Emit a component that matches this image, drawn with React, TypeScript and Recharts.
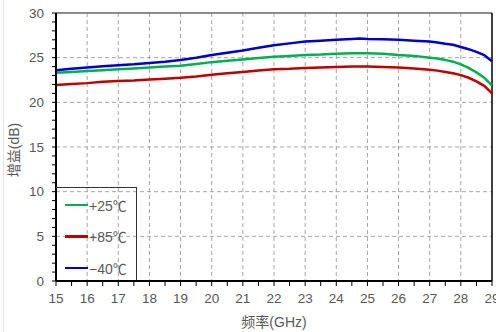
import React from "react";
import {
  LineChart,
  Line,
  XAxis,
  YAxis,
  CartesianGrid,
  ReferenceLine,
} from "recharts";

// frequency points (GHz)
const freqs = [
  15, 15.5, 16, 16.5, 17, 17.5, 18, 18.5, 19, 19.5, 20, 20.5, 21, 21.5, 22,
  22.5, 23, 23.5, 24, 24.5, 24.75, 25, 25.5, 26, 26.5, 27, 27.25, 27.5, 27.75,
  28, 28.25, 28.5, 28.75, 29,
];

// gain (dB) per temperature
const gain25 = [
  23.3, 23.4, 23.5, 23.6, 23.7, 23.8, 23.9, 24.0, 24.1, 24.3, 24.5, 24.65,
  24.8, 24.95, 25.1, 25.2, 25.3, 25.35, 25.45, 25.5, 25.5, 25.5, 25.45, 25.3,
  25.2, 25.0, 24.9, 24.75, 24.55, 24.25, 23.85, 23.35, 22.75, 21.9,
];
const gain85 = [
  21.95, 22.05, 22.15, 22.3, 22.4, 22.45, 22.55, 22.65, 22.75, 22.9, 23.1,
  23.25, 23.4, 23.55, 23.7, 23.75, 23.85, 23.9, 23.95, 24.0, 24.0, 24.0, 23.95,
  23.9, 23.8, 23.65, 23.55, 23.4, 23.25, 23.05, 22.75, 22.35, 21.85, 21.0,
];
const gainM40 = [
  23.6, 23.75, 23.9, 24.05, 24.15, 24.25, 24.4, 24.55, 24.75, 25.0, 25.3,
  25.55, 25.8, 26.1, 26.4, 26.6, 26.8, 26.9, 27.0, 27.1, 27.15, 27.1, 27.05,
  27.0, 26.9, 26.8, 26.7, 26.55, 26.45, 26.2, 25.95, 25.65, 25.3, 24.6,
];

const seriesNames = ["+25℃", "+85℃", "−40℃"];
const seriesKeys = ["g25", "g85", "gm40"];
const seriesColors = ["#00B050", "#C00000", "#0000CC"];

const xTicks = [
  15, 15.5, 16, 16.5, 17, 17.5, 18, 18.5, 19, 19.5, 20, 20.5, 21, 21.5, 22,
  22.5, 23, 23.5, 24, 24.5, 25, 25.5, 26, 26.5, 27, 27.5, 28, 28.5, 29,
];
const xGrid = [16, 17, 18, 19, 20, 21, 22, 23, 24, 25, 26, 27, 28];
const yTicks = Array.from({ length: 31 }, (_, i) => i);
const yGrid = [5, 10, 15, 20, 25];

const xLabel = "频率(GHz)";
const yLabel = "增益(dB)";

const data = freqs.map((f, i) => ({
  f,
  g25: gain25[i],
  g85: gain85[i],
  gm40: gainM40[i],
}));

const FONT = '"Liberation Sans", Arial, "Noto Sans CJK SC", sans-serif';
const TEXT = "#595959";

function XTick({ x, y, payload }: any) {
  if (!Number.isInteger(payload.value)) return null;
  return (
    <text x={x} y={y} dy="0.71em" textAnchor="middle" fill={TEXT} fontSize={13.5} fontFamily={FONT}>
      {payload.value}
    </text>
  );
}

function YTick({ x, y, payload }: any) {
  if (payload.value % 5 !== 0) return null;
  return (
    <text x={x} y={y} dy="0.355em" textAnchor="end" fill={TEXT} fontSize={13.5} fontFamily={FONT}>
      {payload.value}
    </text>
  );
}

function YLabel({ viewBox }: any) {
  const cx = 14;
  const cy = viewBox.y + viewBox.height / 2 + 3;
  return (
    <text
      x={cx}
      y={cy}
      transform={`rotate(-90, ${cx}, ${cy})`}
      textAnchor="middle"
      dominantBaseline="central"
      fill={TEXT}
      fontSize={14}
      fontFamily={FONT}
    >
      {yLabel}
    </text>
  );
}

export default function App() {
  return (
    <div
      style={{
        position: "absolute",
        left: 0,
        top: 0,
        width: 496,
        height: 332,
        background: "#fff",
        fontFamily: FONT,
      }}
    >
      <div style={{ position: "absolute", left: 3, top: 0, width: 1, height: 332, background: "#e4e4e4" }} />
      <LineChart
        width={496}
        height={332}
        data={data}
        margin={{ top: 13, right: 4, bottom: 0, left: 0 }}
      >
        <CartesianGrid
          stroke="#A6A6A6"
          strokeDasharray="4 3"
          horizontalValues={yGrid}
          verticalValues={xGrid}
        />
        <XAxis
          dataKey="f"
          type="number"
          domain={[15, 29]}
          ticks={xTicks}
          interval={0}
          height={51}
          tickSize={5}
          tickMargin={7}
          tick={<XTick />}
          tickLine={{ stroke: "#000" }}
          axisLine={{ stroke: "#000", strokeWidth: 2 }}
          label={{
            value: xLabel,
            position: "insideBottom",
            offset: 5,
            fill: TEXT,
            fontSize: 14,
            fontFamily: FONT,
          }}
        />
        <YAxis
          type="number"
          domain={[0, 30]}
          ticks={yTicks}
          interval={0}
          width={56}
          tickSize={4}
          tickMargin={8}
          tick={<YTick />}
          tickLine={{ stroke: "#000" }}
          axisLine={{ stroke: "#000", strokeWidth: 2 }}
          label={<YLabel />}
        />
        <ReferenceLine y={30} stroke="#666" strokeWidth={1.5} />
        <ReferenceLine x={29} stroke="#000" strokeWidth={1.5} />
        {seriesKeys.map((k, i) => (
          <Line
            key={k}
            dataKey={k}
            name={seriesNames[i]}
            type="linear"
            stroke={seriesColors[i]}
            strokeWidth={2.5}
            dot={false}
            isAnimationActive={false}
          />
        ))}
      </LineChart>
      <div
        style={{
          position: "absolute",
          left: 56,
          top: 187,
          width: 81,
          height: 93,
          borderTop: "1.5px solid #333",
          borderRight: "1.5px solid #333",
          paddingTop: 1,
          boxSizing: "border-box",
        }}
      >
        {seriesNames.map((n, i) => (
          <div key={n} style={{ display: "flex", alignItems: "center", height: 31.5 }}>
            <div style={{ marginLeft: 9, width: 23, height: 2.5, background: seriesColors[i] }} />
            <span style={{ marginLeft: 1, fontSize: 14, color: TEXT }}>{n}</span>
          </div>
        ))}
      </div>
    </div>
  );
}
